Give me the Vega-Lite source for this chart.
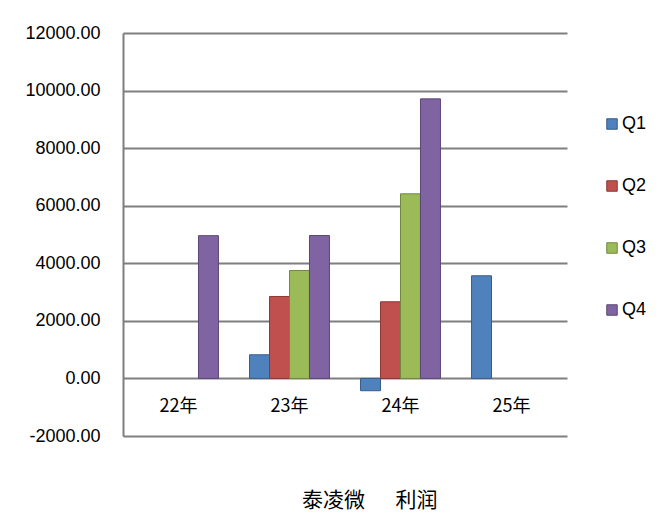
{
  "$schema": "https://vega.github.io/schema/vega-lite/v6.json",
  "autosize": "none",
  "width": 444,
  "height": 403,
  "padding": {"left": 123, "top": 33, "right": 103, "bottom": 84},
  "background": "white",
  "title": {
    "text": "泰凌微\u3000\u00A0\u00A0利润",
    "orient": "bottom",
    "anchor": "start",
    "frame": "group",
    "dx": 179,
    "offset": 45,
    "font": "Noto Sans CJK SC",
    "fontSize": 21,
    "fontWeight": "normal",
    "color": "black"
  },
  "data": {
    "values": [
      {"year": "22年", "q": "Q4", "profit": 4960},
      {"year": "23年", "q": "Q1", "profit": 822},
      {"year": "23年", "q": "Q2", "profit": 2847},
      {"year": "23年", "q": "Q3", "profit": 3750},
      {"year": "23年", "q": "Q4", "profit": 4965},
      {"year": "24年", "q": "Q1", "profit": -427},
      {"year": "24年", "q": "Q2", "profit": 2663},
      {"year": "24年", "q": "Q3", "profit": 6413},
      {"year": "24年", "q": "Q4", "profit": 9712},
      {"year": "25年", "q": "Q1", "profit": 3566}
    ]
  },
  "mark": {"type": "bar", "strokeWidth": 1},
  "encoding": {
    "x": {
      "field": "year",
      "type": "nominal",
      "sort": ["22年", "23年", "24年", "25年"],
      "scale": {"domain": ["22年", "23年", "24年", "25年"], "paddingInner": 0.28, "paddingOuter": 0.14},
      "axis": {
        "title": null,
        "orient": "bottom",
        "offset": -57,
        "domain": false,
        "ticks": false,
        "labelAngle": 0,
        "labelPadding": 18,
        "labelFont": "Noto Sans CJK SC",
        "labelFontSize": 18,
        "labelColor": "black"
      }
    },
    "xOffset": {
      "field": "q",
      "type": "nominal",
      "scale": {"domain": ["Q1", "Q2", "Q3", "Q4"], "paddingInner": 0, "paddingOuter": 0}
    },
    "y": {
      "field": "profit",
      "type": "quantitative",
      "scale": {"domain": [-2000, 12000], "nice": false, "zero": false},
      "axis": {
        "title": null,
        "values": [-2000, 0, 2000, 4000, 6000, 8000, 10000, 12000],
        "labelExpr": "replace(format(datum.value, '.2f'), '\u2212', '-')",
        "grid": true,
        "gridColor": "#7f7f7f",
        "gridWidth": 2,
        "gridOpacity": 1,
        "domain": true,
        "domainColor": "#7f7f7f",
        "domainWidth": 2,
        "ticks": false,
        "labelPadding": 23,
        "labelFont": "Liberation Sans",
        "labelFontSize": 18,
        "labelColor": "black"
      }
    },
    "color": {
      "field": "q",
      "type": "nominal",
      "scale": {"domain": ["Q1", "Q2", "Q3", "Q4"], "range": ["#4F81BD", "#C0504D", "#9BBB59", "#8064A2"]},
      "legend": {
        "title": null,
        "orient": "none",
        "legendX": 480,
        "legendY": 82,
        "padding": 0,
        "symbolType": "square",
        "symbolSize": 110,
        "symbolStrokeWidth": 1,
        "rowPadding": 44,
        "labelFont": "Liberation Sans",
        "labelFontSize": 18,
        "labelColor": "black",
        "labelOffset": 1
      }
    },
    "stroke": {
      "field": "q",
      "type": "nominal",
      "scale": {"domain": ["Q1", "Q2", "Q3", "Q4"], "range": ["#385D8A", "#8C3836", "#71893F", "#5C4776"]},
      "legend": null
    }
  },
  "config": {
    "view": {"stroke": null}
  }
}
